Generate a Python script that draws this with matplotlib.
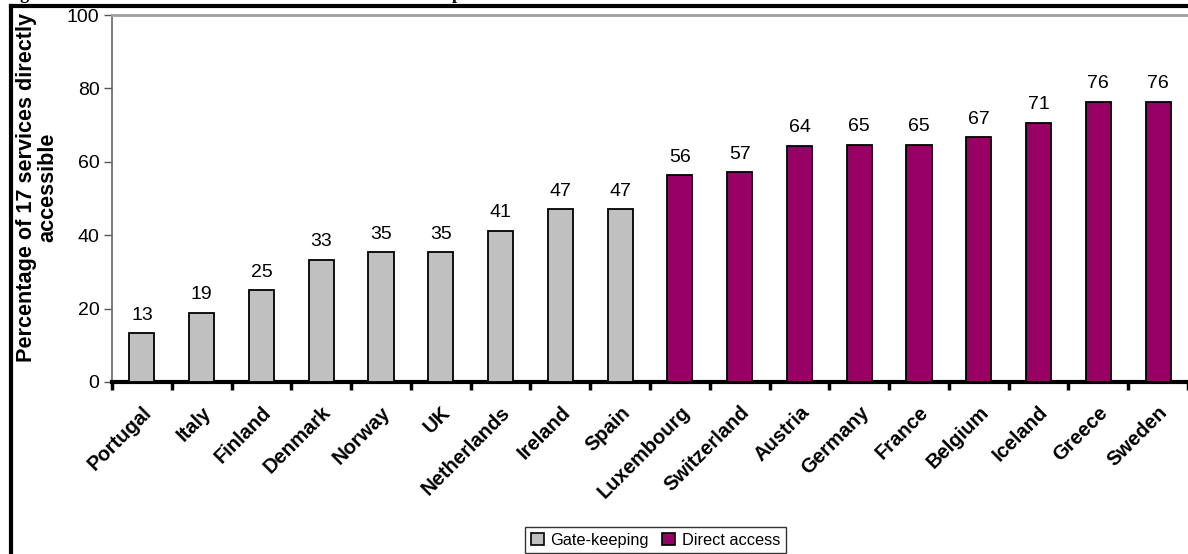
import numpy as np
import matplotlib
matplotlib.use("Agg")
import matplotlib.pyplot as plt
from matplotlib.patches import Patch
from matplotlib.lines import Line2D

plt.rcParams['font.family'] = ['Liberation Sans', 'DejaVu Sans']

countries = ["Portugal", "Italy", "Finland", "Denmark", "Norway", "UK", "Netherlands",
             "Ireland", "Spain", "Luxembourg", "Switzerland", "Austria", "Germany",
             "France", "Belgium", "Iceland", "Greece", "Sweden"]
values = [13.3, 18.8, 25.0, 33.3, 35.3, 35.3, 41.2, 47.1, 47.1, 56.3, 57.1, 64.4,
          64.7, 64.7, 66.7, 70.6, 76.4, 76.4]
groups = ["Gate-keeping"] * 9 + ["Direct access"] * 9
group_colors = {"Gate-keeping": "#C0C0C0", "Direct access": "#990066"}
yticks = [0, 20, 40, 60, 80, 100]

W, H = 1188, 554
fig = plt.figure(figsize=(W / 100, H / 100), dpi=100)
ax = fig.add_axes([112 / W, 1 - 382 / H, 1 - 112 / W, (382 - 15) / H])

x = np.arange(len(countries))
colors = [group_colors[g] for g in groups]
bars = ax.bar(x, values, width=0.42, color=colors, edgecolor="black", linewidth=1.3, zorder=3)
for xi, v in zip(x, values):
    ax.text(xi, v + 2.6, f"{round(v):d}", ha="center", va="bottom", fontsize=14)

ax.set_xlim(-0.5, len(countries) - 0.5)
ax.set_ylim(0, 100)
ax.set_yticks(yticks)
ax.set_yticklabels([str(t) for t in yticks], fontsize=14)
ax.tick_params(axis="y", length=6, width=1.0, color="#555555", pad=3)

ax.set_xticks(np.arange(len(countries) + 1) - 0.5)
ax.set_xticklabels([])
ax.tick_params(axis="x", which="major", length=6, width=2.5, color="black")
ax.set_xticks(x, minor=True)
ax.set_xticklabels(countries, minor=True, rotation=45, ha="right", va="top",
                   rotation_mode="anchor", fontsize=14.5, fontweight="bold")
ax.tick_params(axis="x", which="minor", length=0, pad=15)

ax.spines["right"].set_visible(False)
ax.spines["top"].set_color("#A0A0A0")
ax.spines["top"].set_linewidth(2)
ax.spines["left"].set_color("#666666")
ax.spines["left"].set_linewidth(1.2)
ax.spines["bottom"].set_color("black")
ax.spines["bottom"].set_linewidth(3)

fig.text(37 / W, 1 - 187 / H, "Percentage of 17 services directly\naccessible",
         rotation=90, ha="center", va="center", fontsize=15.6, fontweight="bold",
         linespacing=1.0, multialignment="center")

# figure frame (top and left edges)
fig.add_artist(Line2D([11 / W, 1.0], [1 - 6 / H, 1 - 6 / H], color="black", lw=3,
                      transform=fig.transFigure))
fig.add_artist(Line2D([11 / W, 11 / W], [0, 1 - 6 / H], color="black", lw=3,
                      transform=fig.transFigure))

# caption, clipped by the top edge as in the source page
fig.text(4 / W, 1 + 1 / H, "Figure 2   Direct access of medical care services in 18 European countries.",
         ha="left", va="baseline", fontsize=13, fontweight="bold", family="Liberation Serif")

handles = [Patch(facecolor=group_colors[g], edgecolor="black", linewidth=1.2, label=g)
           for g in ["Gate-keeping", "Direct access"]]
leg = fig.legend(handles=handles, loc="upper left", bbox_to_anchor=(525 / W, 1 - 527 / H),
                 ncol=2, fontsize=11.8, frameon=True, fancybox=False, edgecolor="black",
                 handlelength=0.8, handleheight=0.8, handletextpad=0.4, columnspacing=0.8,
                 borderpad=0.35, borderaxespad=0)
leg.get_frame().set_linewidth(1.0)

fig.savefig("out.png", dpi=100)
